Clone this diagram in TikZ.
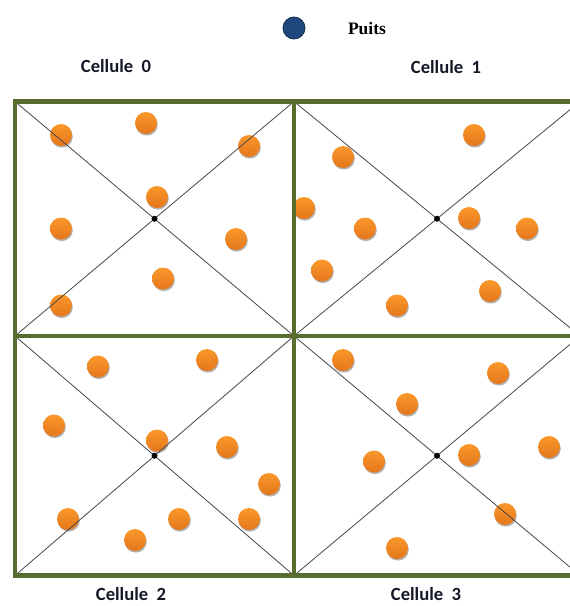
\documentclass[tikz,border=0pt]{standalone}
\usepackage{fontspec}
\setmainfont{Liberation Serif}
\newfontfamily\calib{Carlito}
\usetikzlibrary{calc,shadows}
\definecolor{framegreen}{RGB}{88,108,46}
\definecolor{orangeA}{RGB}{250,152,42}
\definecolor{orangeB}{RGB}{228,118,28}
\definecolor{sinkblue}{RGB}{31,73,125}
\definecolor{sinkedge}{RGB}{22,40,68}
\definecolor{labelink}{RGB}{20,24,38}
\tikzset{
  cellframe/.style={draw=framegreen, line width=4.6pt},
  diag/.style={draw=black!72, line width=0.8pt},
  ctr/.style={circle, fill=black, inner sep=0pt, minimum size=6pt},
  sensor/.style={circle, inner sep=0pt, minimum size=22pt, top color=orangeA, bottom color=orangeB,
    drop shadow={shadow xshift=0.8pt, shadow yshift=-1.6pt, opacity=0.3, fill=black}},
  sink/.style={circle, inner sep=0pt, minimum size=22pt, fill=sinkblue, draw=sinkedge, line width=0.8pt},
  celllabel/.style={inner sep=0.5pt, font=\calib\bfseries\fontsize{18.6}{20}\selectfont, text=labelink},
  sinklabel/.style={inner sep=0.5pt, font=\bfseries\fontsize{17.5}{20}\selectfont, text=black}
}
\begin{document}
\begin{tikzpicture}[x=1pt,y=-1pt]
\useasboundingbox (0,0) rectangle (570,606);
\clip (0,0) rectangle (570,606);
% corners
\coordinate (tl0) at (15,101.5);  \coordinate (tr0) at (294,101.5);
\coordinate (bl0) at (15,336);    \coordinate (br0) at (294,336);
\coordinate (tl1) at (294,101.5); \coordinate (tr1) at (580,101.5);
\coordinate (bl1) at (294,336);   \coordinate (br1) at (580,336);
\coordinate (tl2) at (15,336);    \coordinate (tr2) at (294,336);
\coordinate (bl2) at (15,575.5);  \coordinate (br2) at (294,575.5);
\coordinate (tl3) at (294,336);   \coordinate (tr3) at (580,336);
\coordinate (bl3) at (294,575.5); \coordinate (br3) at (580,575.5);
% sink and labels
\node[sink] (sink) at (294,28) {};
\node[sinklabel] (puits) at (367,29) {Puits};
\node[celllabel] (lab0) at (116,66) {Cellule~~0};
\node[celllabel] (lab1) at (446,67) {Cellule~~1};
\node[celllabel] (lab2) at (131,594.5) {Cellule~~2};
\node[celllabel] (lab3) at (426,594) {Cellule~~3};
% sensors
\foreach \x/\y [count=\i] in {61/135, 146/123, 249/146, 157/197, 61/228.5, 236/239, 163/278.5, 61/305.5}
  \node[sensor] (s0-\i) at (\x,\y) {};
\foreach \x/\y [count=\i] in {474/135, 343/157, 304/208, 365/228.5, 469/218, 527/228.5, 322/270.5, 490/291, 397/305.5}
  \node[sensor] (s1-\i) at (\x,\y) {};
\foreach \x/\y [count=\i] in {98/366.5, 207/360, 54/425.5, 157/440.5, 227/447, 269/484, 68/519, 179/519, 249/519, 135/540}
  \node[sensor] (s2-\i) at (\x,\y) {};
\foreach \x/\y [count=\i] in {343/360, 498/373, 407/404, 374/461.5, 469/455, 549/447, 505/514, 397/548}
  \node[sensor] (s3-\i) at (\x,\y) {};
% diagonals
\foreach \c in {0,1,2,3}{
  \draw[diag] (tl\c) -- (br\c);
  \draw[diag] (tr\c) -- (bl\c);
}
% frames
\foreach \c in {0,1,2,3}
  \draw[cellframe] (tl\c) rectangle (br\c);
% centres
\foreach \c in {0,1,2,3}
  \node[ctr] (m\c) at ($(tl\c)!0.5!(br\c)$) {};
\end{tikzpicture}
\end{document}
